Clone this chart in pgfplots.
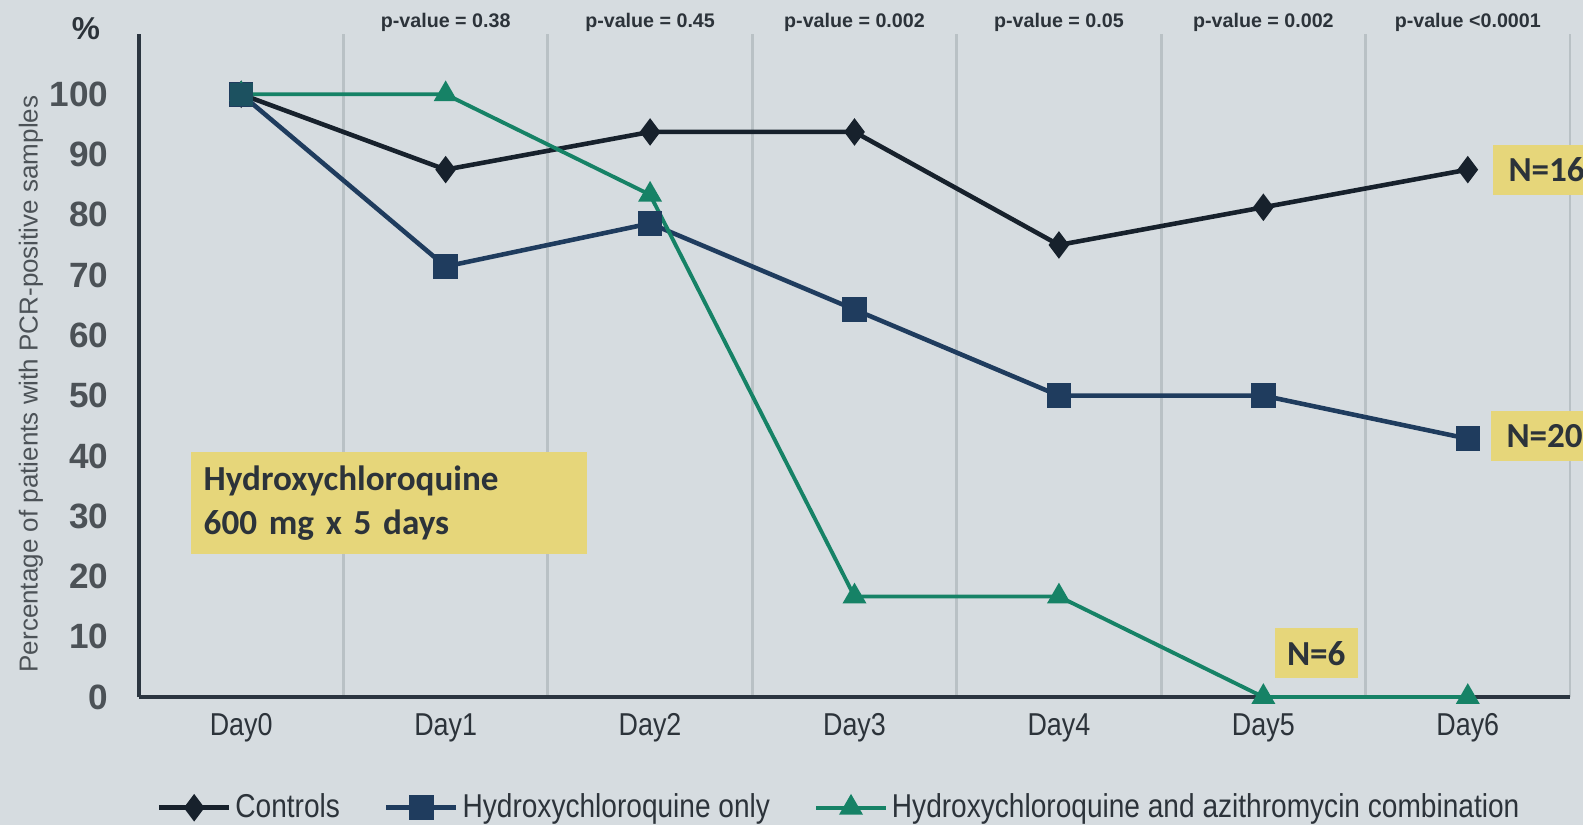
\documentclass[border=0pt]{standalone}
\usepackage{fontspec}
\usepackage{pgfplots}
\pgfplotsset{compat=1.18}
\setmainfont{Liberation Sans}
\newfontfamily\narrowsans[FakeStretch=0.85]{Liberation Sans}
\newfontfamily\boxfont{Carlito}

\definecolor{bgcol}{HTML}{D6DCE0}
\definecolor{gridcol}{HTML}{B9C1C5}
\definecolor{axiscol}{HTML}{2B3540}
\definecolor{ctrlcol}{HTML}{17212C}
\definecolor{hcqcol}{HTML}{1F3C5E}
\definecolor{combocol}{HTML}{168266}
\definecolor{boxyellow}{HTML}{E6D67A}
\definecolor{textdark}{HTML}{2C333A}

\begin{document}
\begin{tikzpicture}
\useasboundingbox (0,0) rectangle (158.3mm,-82.5mm);
\fill[bgcol] (0,0) rectangle (158.3mm,-82.5mm);
\begin{scope}
\clip (0,0) rectangle (158.3mm,-82.5mm);
\begin{axis}[
  scale only axis,
  width=143.1mm, height=66.3mm,
  at={(13.9mm,-69.7mm)}, anchor=south west,
  xmin=-0.5, xmax=6.5, ymin=0, ymax=110,
  axis x line=bottom, axis y line=left,
  axis line style={-, draw=axiscol, line width=1.1pt},
  xtick={0,...,6},
  xticklabels={Day0,Day1,Day2,Day3,Day4,Day5,Day6},
  ytick={0,10,...,100},
  major tick length=0pt,
  minor xtick={0.5,1.5,...,6.5},
  xminorgrids=true,
  minor tick length=0pt,
  minor grid style={draw=gridcol, line width=0.8pt},
  /pgf/number format/assume math mode=true,
  yticklabel style={font=\bfseries\fontsize{10}{12}\selectfont, text=textdark!85,
    anchor=east, inner sep=0pt, xshift=-3mm},
  xticklabel style={font=\narrowsans\fontsize{9}{11}\selectfont, text=textdark,
    anchor=north, inner sep=0pt, yshift=-1.6mm},
  clip=false,
  legend columns=3,
  legend cell align=left,
  legend style={draw=none, fill=none, inner sep=0pt,
    at={(axis description cs:0.012,-0.167)}, anchor=west,
    font=\narrowsans\fontsize{9.4}{11}\selectfont, text=textdark,
    nodes={inner sep=0.4mm},
    /tikz/every even column/.append style={column sep=4mm}},
  legend image code/.code={\draw[mark repeat=2,mark phase=2,#1]
    plot coordinates {(0mm,0mm) (3.5mm,0mm) (7mm,0mm)};},
]
% controls (N=16)
\addplot[ctrlcol, line width=1.3pt, mark=diamond*, mark size=1.0mm,
  mark options={solid, fill=ctrlcol}]
  coordinates {(0,100) (1,87.5) (2,93.75) (3,93.75) (4,75) (5,81.25) (6,87.5)};
\addlegendentry{Controls}
% hydroxychloroquine only (N=20)
\addplot[hcqcol, line width=1.3pt, mark=square*, mark size=1.0mm,
  mark options={solid, fill=hcqcol}]
  coordinates {(0,100) (1,71.43) (2,78.57) (3,64.29) (4,50) (5,50) (6,42.86)};
\addlegendentry{Hydroxychloroquine only}
% combination arm (N=6)
\addplot[combocol, line width=1.1pt, mark=triangle*, mark size=1.0mm,
  mark options={solid, fill=combocol}]
  coordinates {(0,100) (1,100) (2,83.33) (3,16.67) (4,16.67) (5,0) (6,0)};
\addlegendentry{Hydroxychloroquine and azithromycin combination}
% shared starting point, square marker kept on top
\addplot[forget plot, only marks, mark=square*, mark size=1.1mm,
  mark options={draw=hcqcol!70!combocol, fill=hcqcol!70!combocol}]
  coordinates {(0,100)};

% p-values per day
\begin{scope}[every node/.style={font=\bfseries\fontsize{5.6}{7}\selectfont, text=textdark}]
\node at (axis cs:1,112) {p-value = 0.38};
\node at (axis cs:2,112) {p-value = 0.45};
\node at (axis cs:3,112) {p-value = 0.002};
\node at (axis cs:4,112) {p-value = 0.05};
\node at (axis cs:5,112) {p-value = 0.002};
\node at (axis cs:6,112) {p-value <0.0001};
\end{scope}

% group sizes
\begin{scope}[every node/.style={fill=boxyellow, text=textdark,
    font=\boxfont\bfseries\fontsize{10}{12}\selectfont,
    inner xsep=1.6mm, minimum height=5mm}]
\node[anchor=west, xshift=2.4mm] at (axis cs:6,87.5) {N=16};
\node[anchor=west, xshift=2.2mm, yshift=0.3mm] at (axis cs:6,42.86) {N=20};
\node[anchor=south west, xshift=1.1mm, yshift=1.8mm, inner xsep=1.2mm] at (axis cs:5,0) {N=6\hspace{1.7mm}};
\end{scope}
\end{axis}
\end{scope}

% unit above the value axis
\node[font=\bfseries\fontsize{9}{11}\selectfont, text=textdark] at (8.6mm,-2.9mm) {\%};
% value axis title
\node[rotate=90, font=\fontsize{7.4}{9}\selectfont, text=textdark!85] at (3.1mm,-38.4mm)
  {Percentage of patients with PCR-positive samples};
% dosing note
\node[anchor=north west, fill=boxyellow, text=textdark, align=left,
  text width=37mm, inner xsep=1.3mm, minimum height=10.2mm,
  font=\boxfont\bfseries\fontsize{10}{12.5}\selectfont] at (19.0mm,-45.1mm)
  {Hydroxychloroquine\\600 mg x 5 days};
\end{tikzpicture}
\end{document}
